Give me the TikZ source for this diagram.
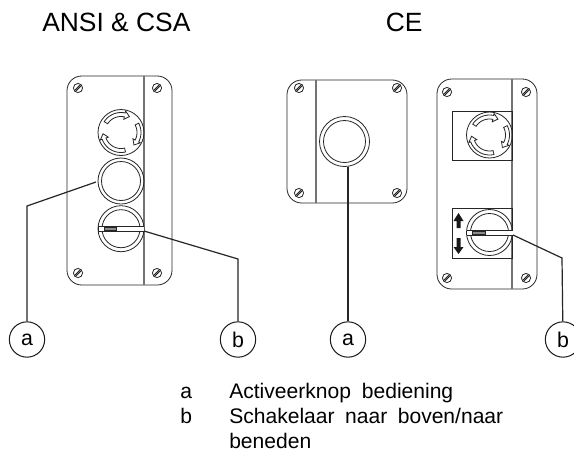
\documentclass[tikz,border=0pt]{standalone}
\usepackage{fontspec}
\setmainfont{Liberation Sans}
\newcommand{\curvearrow}[2]{%
  \draw[ink,fill=white,line join=miter] plot[domain=#1:#2-16,samples=12] (\x:20) -- (#2-16:22) -- (#2:18) -- (#2-16:13.5) -- plot[domain=#2-16:#1,samples=12] (\x:16) -- cycle;}
\tikzset{
  x=0.75pt,y=-0.75pt,
  ink/.style={draw=black!85,line width=0.6pt},
  panel/.style={ink,rounded corners=11pt},
  grayline/.style={draw=black!55,line width=1pt},
  leader/.style={draw=black!85,line width=0.9pt},
  callout/.style={circle,draw=black!90,line width=0.75pt,minimum size=26.5pt,inner sep=0pt,font=\fontsize{16}{16}\selectfont},
  title/.style={font=\fontsize{19.8}{22}\selectfont,anchor=base west,inner sep=0pt},
  legend/.style={font=\fontsize{15.8}{18}\selectfont,anchor=base west,inner sep=0pt},
  screw/.pic={\draw[ink] (0,0) circle[radius=4.6]; \draw[ink] (-3.2,2.2)--(2.2,-3.2) (-2.2,3.2)--(3.2,-2.2);},
  estop/.pic={
    \draw[ink] (0,0) circle[radius=23];
    \curvearrow{-147}{-62}
    \curvearrow{-28}{44}
    \curvearrow{77}{176}
  },
  plainbtn/.pic={\draw[ink] (0,0) circle[radius=23]; \draw[ink] (0,0) circle[radius=19.5];},
  bigbtn/.pic={\draw[ink] (0,0) circle[radius=25]; \draw[ink] (0,0) circle[radius=21];},
  selector/.pic={
    \draw[ink] (0,0) circle[radius=23];
    \draw[ink] (0,0) circle[radius=19];
    \fill[white] (-23,-2) rectangle (23,2.5);
    \draw[ink] (-23,-2) -- (23,-2) (-23,2.5) -- (23,2.5) (-23,-2)--(-23,2.5);
    \draw[ink,fill=black!45] (-17,-1) rectangle (-4.5,1.5);
  }
}
\begin{document}
\begin{tikzpicture}
\useasboundingbox (0,0) rectangle (574,451);
\fill[white] (0,0) rectangle (574,451);
% titles
\node[title] (t1) at (42,31) {ANSI \& CSA};
\node[title] (t2) at (385.5,31) {CE};
% left panel
\draw[panel] (67,76) rectangle (172,285);
\draw[grayline] (144,76) -- (144,285);
\foreach \p in {{78,88},{157,88},{78,273},{157,273}}{\pic at (\p) {screw};}
\pic at (121,132.5) {estop};
\pic at (121,181) {plainbtn};
\pic at (121,228.7) {selector};
% middle panel
\draw[panel] (287,80) rectangle (407,203);
\draw[grayline] (316,80) -- (316,203);
\foreach \p in {{299,88},{397,88},{299,193},{397,193}}{\pic at (\p) {screw};}
\pic at (344.5,141.5) {bigbtn};
% right panel
\draw[panel] (437,79) rectangle (537,289);
\draw[grayline] (512,79) -- (512,289);
\foreach \p in {{447,92},{526,92},{447,278},{526,278}}{\pic at (\p) {screw};}
\draw[ink] (452,111) rectangle (512,160);
\draw[ink] (452,208) rectangle (512,258);
\pic at (489.5,135) {estop};
\pic at (489.5,232.5) {selector};
\fill[black!90] (458.5,213) -- (463.5,221) -- (460.5,221) -- (460.5,228) -- (456.5,228) -- (456.5,221) -- (453.5,221) -- cycle;
\fill[black!90] (458.5,254) -- (463.5,247) -- (460.5,247) -- (460.5,238) -- (456.5,238) -- (456.5,247) -- (453.5,247) -- cycle;
% callouts
\node[callout] (a1) at (27,339.5) {a};
\node[callout] (b1) at (238,339.5) {b};
\node[callout] (a2) at (348,339.5) {a};
\node[callout] (b2) at (563,339.5) {b};
\coordinate (p1) at (96,182);
\coordinate (k1) at (27,206);
\coordinate (p2) at (144,231);
\coordinate (k2) at (238,259);
\coordinate (p3) at (348,167);
\coordinate (p4) at (513,235);
\coordinate (k4) at (562,258);
\draw[leader] (p1) -- (k1) -- (a1);
\draw[leader] (p2) -- (k2) -- (b1);
\draw[leader] (p3) -- (a2);
\draw[leader] (p4) -- (k4) -- (b2);
% legend
\node[legend] (l1) at (180,398) {a};
\node[legend] (l2) at (229,398) {\hbox to 168pt{Activeerknop\hfill bediening}};
\node[legend] (l3) at (180,423) {b};
\node[legend] (l4) at (229,423) {\hbox to 205.5pt{Schakelaar\hfill naar\hfill boven/naar}};
\node[legend] (l5) at (229,448) {beneden};
\end{tikzpicture}
\end{document}
